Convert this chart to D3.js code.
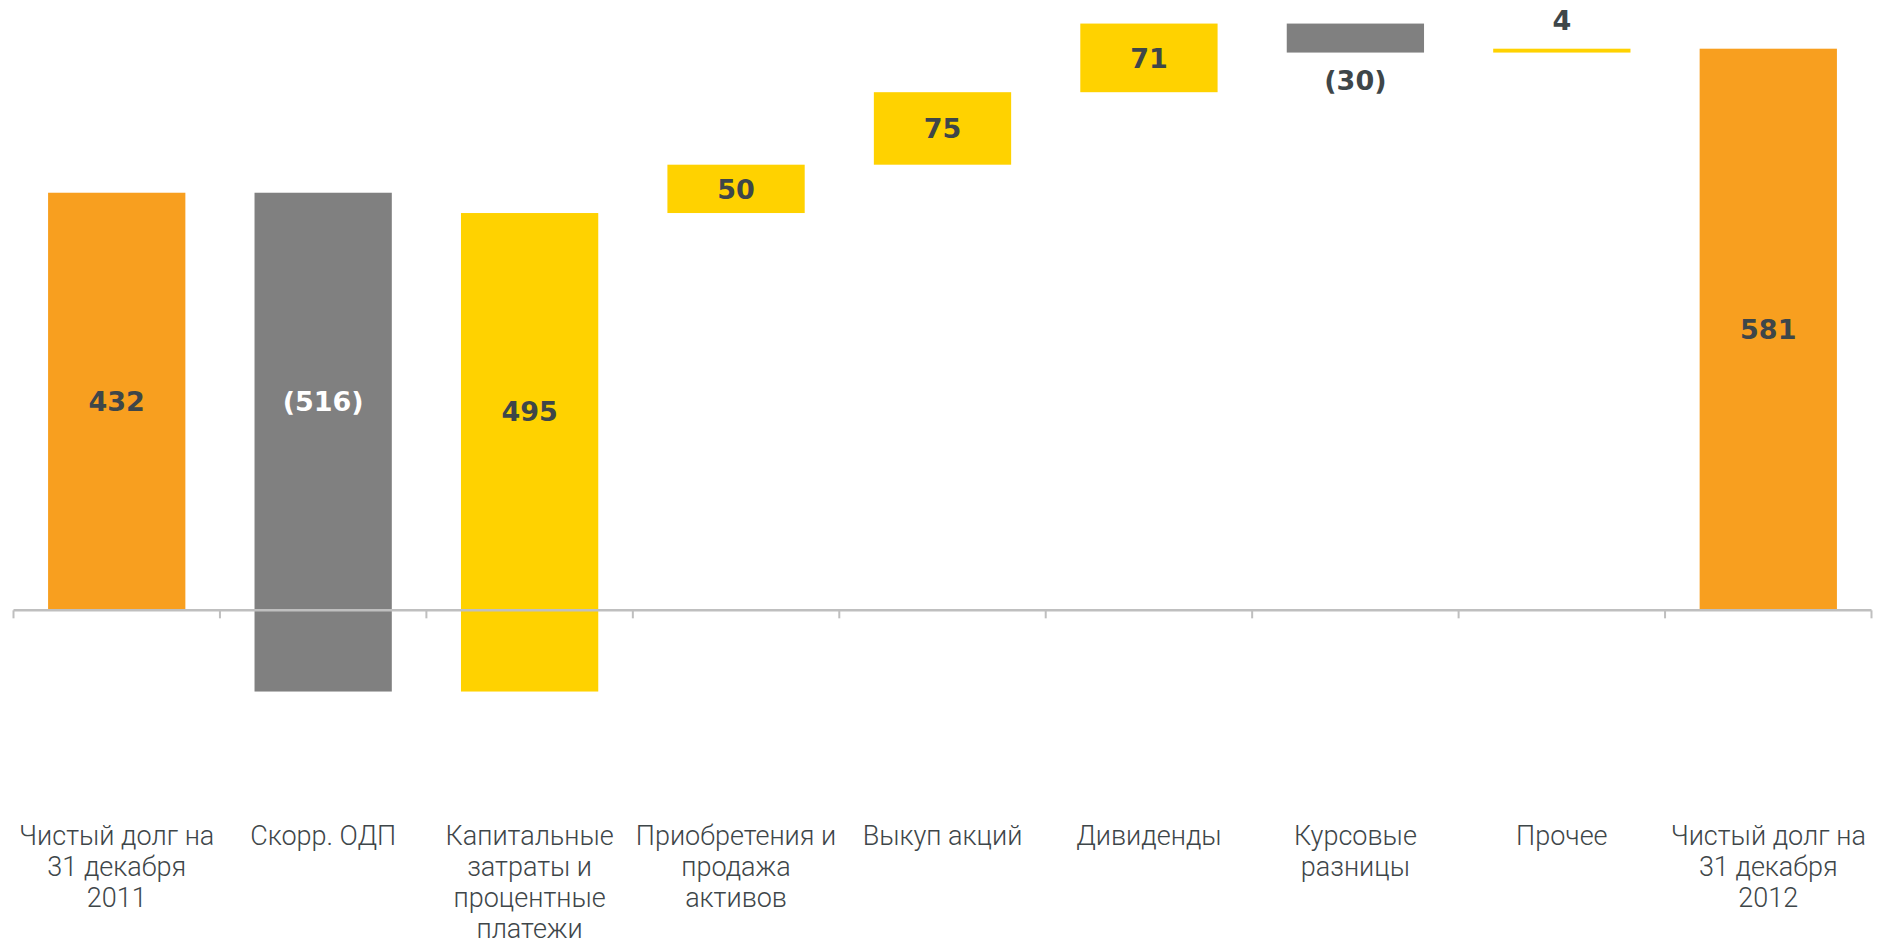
<!DOCTYPE html>
<html>
<head>
<meta charset="utf-8">
<script src="https://cdn.jsdelivr.net/npm/d3@7"></script>
<style>
  html, body { margin: 0; padding: 0; background: #fff; }
  svg { display: block; }
</style>
</head>
<body>
<svg></svg>
<script>
const width = 1883;
const height = 944;

// categories, one entry per bar (lines as wrapped in the original)
const categories = [
  ['Чистый долг на', '31 декабря', '2011'],
  ['Скорр. ОДП'],
  ['Капитальные', 'затраты и', 'процентные', 'платежи'],
  ['Приобретения и', 'продажа', 'активов'],
  ['Выкуп акций'],
  ['Дивиденды'],
  ['Курсовые', 'разницы'],
  ['Прочее'],
  ['Чистый долг на', '31 декабря', '2012']
];
const values = [432, -516, 495, 50, 75, 71, -30, 4, 581];
const isTotal = [true, false, false, false, false, false, false, false, true];

const orange = '#F89F1F';
const yellow = '#FFD200';
const grey = '#808080';
const textColor = '#3E4649';

// running totals -> start / end of each bar
let run = 0;
const bars = values.map((v, i) => {
    let y0, y1;
    if (isTotal[i]) { y0 = 0; y1 = v; run = v; }
    else { y0 = run; y1 = run + v; run = y1; }
    return { i, value: v, y0, y1, total: isTotal[i] };
});

const svg = d3.select('svg')
    .attr('width', width)
    .attr('height', height);

const xScale = d3.scaleBand()
    .domain(d3.range(categories.length))
    .range([13.5, 1871.5])
    .paddingInner(0.335)
    .paddingOuter(0.1675);

const yScale = d3.scaleLinear()
    .domain([-100, 620])
    .range([707, 11]);

// bars
svg.append('g')
    .selectAll('rect')
    .data(bars)
    .enter()
    .append('rect')
        .attr('x', d => xScale(d.i))
        .attr('width', xScale.bandwidth())
        .attr('y', d => yScale(Math.max(d.y0, d.y1)))
        .attr('height', d => Math.abs(yScale(d.y0) - yScale(d.y1)))
        .attr('fill', d => d.total ? orange : (d.value < 0 ? grey : yellow));

// axis line with ticks at band edges
const step = xScale.step();
const edges = d3.range(categories.length + 1)
    .map(k => xScale(0) - step * xScale.paddingInner() / 2 + k * step);
const axisG = svg.append('g');
axisG.append('line')
    .attr('x1', edges[0]).attr('x2', edges[edges.length - 1])
    .attr('y1', yScale(0)).attr('y2', yScale(0))
    .attr('stroke', '#BFBFBF')
    .attr('stroke-width', 2.5);
axisG.selectAll('.tick')
    .data(edges)
    .enter()
    .append('line')
        .attr('x1', d => d).attr('x2', d => d)
        .attr('y1', yScale(0)).attr('y2', yScale(0) + 8)
        .attr('stroke', '#BFBFBF')
        .attr('stroke-width', 2);

// value labels
svg.append('g')
    .selectAll('text')
    .data(bars)
    .enter()
    .append('text')
        .attr('x', d => xScale(d.i) + xScale.bandwidth() / 2)
        .attr('y', d => {
            const top = Math.max(d.y0, d.y1);
            const bottom = Math.min(d.y0, d.y1);
            const h = yScale(bottom) - yScale(top);
            if (h < 35) {
                // small bar: label outside
                return d.value < 0 ? yScale(bottom) + 28 : yScale(top) - 28;
            }
            const visBottom = Math.max(bottom, 0);
            return (yScale(top) + yScale(visBottom)) / 2;
        })
        .attr('dy', '0.36em')
        .style('text-anchor', 'middle')
        .style('font-family', '"DejaVu Sans", sans-serif')
        .style('font-weight', 'bold')
        .style('font-size', '27px')
        .attr('fill', d => (!d.total && d.value < 0 && Math.abs(yScale(d.y0) - yScale(d.y1)) >= 35) ? '#FFFFFF' : textColor)
        .text(d => d.value < 0 ? `(${-d.value})` : `${d.value}`);

// category labels
const catG = svg.append('g')
    .selectAll('text')
    .data(categories)
    .enter()
    .append('text')
        .attr('x', (d, i) => xScale(i) + xScale.bandwidth() / 2)
        .attr('y', 845)
        .style('text-anchor', 'middle')
        .style('font-family', 'Roboto, sans-serif')
        .style('font-weight', 300)
        .style('font-size', '27px')
        .attr('fill', textColor);

catG.selectAll('tspan')
    .data(d => d)
    .enter()
    .append('tspan')
        .attr('x', function () { return d3.select(this.parentNode).attr('x'); })
        .attr('dy', (d, i) => i === 0 ? 0 : 31)
        .text(d => d);
</script>
</body>
</html>
